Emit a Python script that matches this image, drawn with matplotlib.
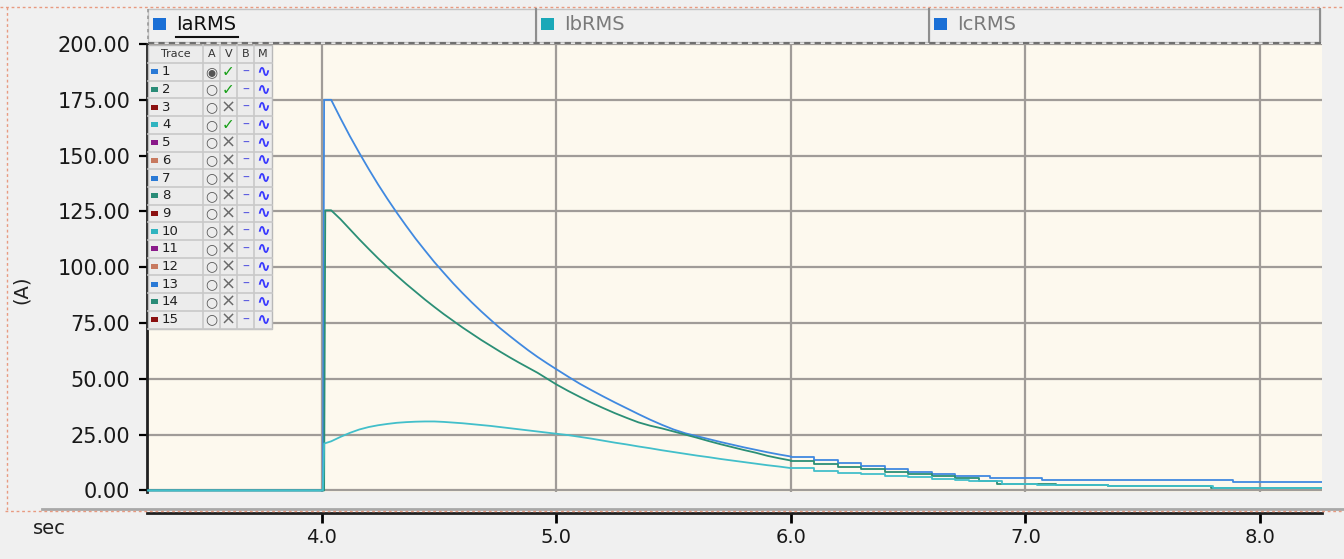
import matplotlib
matplotlib.use("Agg")
import matplotlib.pyplot as plt
from matplotlib.patches import Rectangle
from matplotlib.lines import Line2D

W, H = 1344, 559

# shared sample times after the fault (s)
t_main = [4.04, 4.08, 4.12, 4.16, 4.20, 4.24, 4.28, 4.32, 4.36, 4.40,
          4.44, 4.48, 4.52, 4.56, 4.60, 4.64, 4.68, 4.72, 4.76, 4.80,
          4.84, 4.88, 4.92, 4.96, 5.00, 5.05, 5.10, 5.15, 5.20, 5.25,
          5.30, 5.35, 5.40, 5.45, 5.50, 5.55, 5.60, 5.65, 5.70, 5.75,
          5.80, 5.85, 5.90, 5.95, 6.00, 6.10, 6.20, 6.30, 6.40, 6.50,
          6.60, 6.70]
SPLIT = 44  # index of 6.00 s, after which the record is drawn as coarse steps

# trace 1 (blue)
t1_head = [3.26, 4.005, 4.01]
v1_head = [0.0, 0.0, 175.0]
v1_main = [175.0, 166.7, 158.7, 151.2, 144.0, 137.1, 130.6, 124.4, 118.5, 112.8,
           107.5, 102.3, 97.5, 92.8, 88.4, 84.2, 80.2, 76.4, 72.7, 69.3,
           66.0, 62.8, 59.8, 57.0, 54.3, 51.0, 47.8, 44.9, 42.1, 39.4,
           36.8, 34.2, 31.7, 29.4, 27.3, 25.6, 24.3, 23.0, 21.7, 20.5,
           19.3, 18.2, 17.1, 16.1, 15.2, 13.6, 12.2, 10.8, 9.4, 8.3,
           7.2, 6.3]
t1_tail = [6.85, 7.07, 7.885, 8.27]
v1_tail = [5.4, 4.6, 3.9, 3.9]

# trace 2 (green)
t2_head = [3.26, 4.01, 4.015]
v2_head = [0.0, 0.0, 125.5]
v2_main = [125.5, 121.5, 117.0, 112.5, 108.2, 104.0, 100.0, 96.2, 92.5, 89.0,
           85.5, 82.2, 79.0, 76.0, 73.0, 70.2, 67.4, 64.8, 62.2, 59.7,
           57.3, 55.0, 52.7, 50.1, 47.5, 44.6, 41.9, 39.3, 36.9, 34.6,
           32.5, 30.5, 29.0, 27.8, 26.4, 25.0, 23.6, 22.1, 20.7, 19.4,
           18.1, 16.9, 15.5, 14.4, 13.4, 12.0, 10.7, 9.5, 8.4, 7.3,
           6.3, 5.4]
t2_tail = [6.80, 6.88, 7.13, 7.35, 7.79, 8.27]
v2_tail = [4.4, 3.1, 2.4, 1.9, 1.3, 1.3]

# trace 4 (cyan)
t4_head = [3.26, 4.005, 4.01]
v4_head = [0.0, 0.0, 21.0]
v4_main = [22.0, 24.0, 25.8, 27.3, 28.4, 29.2, 29.8, 30.3, 30.6, 30.8,
           30.9, 30.9, 30.7, 30.4, 30.1, 29.7, 29.3, 28.9, 28.4, 27.9,
           27.4, 26.9, 26.4, 25.9, 25.4, 24.8, 24.0, 23.2, 22.3, 21.4,
           20.6, 19.7, 18.9, 18.0, 17.2, 16.4, 15.6, 14.9, 14.1, 13.4,
           12.7, 12.0, 11.3, 10.7, 10.0, 8.9, 8.0, 7.2, 6.5, 5.9,
           5.3, 4.8]
t4_tail = [6.76, 6.90, 7.05, 7.35, 7.80, 8.27]
v4_tail = [4.4, 3.1, 2.6, 1.8, 1.3, 1.3]

tabs = ["IaRMS", "IbRMS", "IcRMS"]
x_ticks = [4.0, 5.0, 6.0, 7.0, 8.0]
y_ticks = [0, 25, 50, 75, 100, 125, 150, 175, 200]
trace_ids = list(range(1, 16))
trace_on = [1, 2, 4]
trace_cols = ["#2a7ad6", "#2a8c78", "#8b1010", "#30b4c0", "#8a1a8a", "#c87a60"]


def fx(x):
    return x / W


def fy(y):
    return 1 - y / H


fig = plt.figure(figsize=(W / 100, H / 100), dpi=100, facecolor="#f0f0f0")


def rect(x0, y0, x1, y1, **kw):
    fig.add_artist(Rectangle((fx(x0), fy(y1)), (x1 - x0) / W, (y1 - y0) / H,
                             transform=fig.transFigure, **kw))


def hline(x0, x1, y, **kw):
    fig.add_artist(Line2D([fx(x0), fx(x1)], [fy(y), fy(y)], transform=fig.transFigure, **kw))


def vline(x, y0, y1, **kw):
    fig.add_artist(Line2D([fx(x), fx(x)], [fy(y0), fy(y1)], transform=fig.transFigure, **kw))


# main plot area
ax = fig.add_axes([fx(147), fy(492), (1322 - 147) / W, (492 - 44) / H])
ax.set_facecolor("#fdf9ee")
ax.set_xlim(3.255, 8.264)
ax.set_ylim(-0.7, 200)
ax.set_xticks(x_ticks)
ax.set_yticks(y_ticks)
ax.set_yticklabels([f"{v:.2f}" for v in y_ticks])
ax.grid(color="#a09c98", lw=1.6, zorder=1)
ax.set_axisbelow(True)
ax.tick_params(axis="x", bottom=False, labelbottom=False)
ax.tick_params(axis="y", direction="out", length=6, width=1.6, labelsize=15, pad=6,
               labelcolor="#181818")
for s in ["top", "right", "bottom"]:
    ax.spines[s].set_visible(False)
ax.spines["left"].set_linewidth(2)
ax.spines["left"].set_color("#202020")

series = [
    (t1_head, v1_head, v1_main, t1_tail, v1_tail, "#4089e0", 3),
    (t2_head, v2_head, v2_main, t2_tail, v2_tail, "#2b8f76", 3),
    (t4_head, v4_head, v4_main, t4_tail, v4_tail, "#42bfca", 4),
]
for th, vh, vm, tt, vt, col, z in series:
    ax.plot(th + t_main[:SPLIT + 1], vh + vm[:SPLIT + 1], color=col, lw=1.3, zorder=z)
    ax.plot(t_main[SPLIT:] + tt, vm[SPLIT:] + vt, drawstyle="steps-post",
            color=col, lw=1.3, zorder=z)

# x axis strip
axx = fig.add_axes([fx(147), fy(513), (1322 - 147) / W, 0.0001])
axx.set_xlim(3.255, 8.264)
axx.set_xticks(x_ticks)
axx.set_xticklabels([f"{v:.1f}" for v in x_ticks])
axx.set_yticks([])
axx.patch.set_alpha(0)
for s in ["top", "left", "right"]:
    axx.spines[s].set_visible(False)
axx.spines["bottom"].set_linewidth(2)
axx.spines["bottom"].set_color("#202020")
axx.tick_params(axis="x", direction="out", length=7, width=2, labelsize=14, pad=4,
                labelcolor="#181818")

fig.text(fx(33), fy(529), "sec", fontsize=14, va="center", ha="left", color="#202020")
fig.text(fx(21), fy(290), "(A)", fontsize=14, rotation=90, va="center", ha="center", color="#202020")

# frame lines
hline(42, W, 509, color="#a8a8a8", lw=2)
hline(0, W, 7, color="#e89a80", lw=1, ls=(0, (2, 2)))
hline(5, W, 511, color="#e89a80", lw=1, ls=(0, (2, 2)))
vline(7, 7, 511, color="#e89a80", lw=1, ls=(0, (2, 2)))

# header tabs
tab_x = [148, 536, 929, 1320]
tab_sq = ["#1a6fd6", "#1aa8b8", "#1a6fd6"]
for i, name in enumerate(tabs):
    x0, x1 = tab_x[i], tab_x[i + 1]
    rect(x0, 9, x1, 42, fc="#f0f0f0", ec="#c4c4c4", lw=1)
    vline(x1, 9, 42, color="#8e8e8e", lw=1.5)
    rect(x0 + 5, 18, x0 + 18, 30, fc=tab_sq[i], ec="none")
    col = "#101010" if i == 0 else "#7a7a7a"
    fig.text(fx(x0 + 28), fy(25), name, fontsize=14, va="center", ha="left", color=col)
hline(176, 238, 37, color="#101010", lw=1.5)
vline(148, 9, 42, color="#9a9a9a", lw=1.2, ls=(0, (2, 2)))
hline(148, 1322, 43, color="#707070", lw=1.5, ls=(0, (3, 2)))

# trace table
col_x = [148, 203, 220, 237, 254, 272]
row_top = 63
row_h = 17.7
rect(148, 45, 272, row_top + 15 * row_h, fc="#ececec", ec="#b8b8b8", lw=1, zorder=5)
for cx in col_x[1:-1]:
    vline(cx, 45, row_top + 15 * row_h, color="#c8c8c8", lw=1.2, zorder=6)
for r in range(16):
    hline(148, 272, row_top + r * row_h, color="#c8c8c8", lw=1.2, zorder=6)

hdr = ["Trace", "A", "V", "B", "M"]
for j, h in enumerate(hdr):
    fig.text(fx((col_x[j] + col_x[j + 1]) / 2), fy(54), h, fontsize=8,
             ha="center", va="center", color="#333333", zorder=7)

for i, tid in enumerate(trace_ids):
    yc = row_top + row_h * i + row_h / 2
    rect(151, yc - 2.5, 158, yc + 2.5, fc=trace_cols[i % 6], ec="none", zorder=7)
    fig.text(fx(162), fy(yc), str(tid), fontsize=9.5, ha="left", va="center",
             color="#202020", zorder=7)
    fig.text(fx(211.5), fy(yc), "\u25c9" if i == 0 else "\u25cb", fontsize=10,
             ha="center", va="center", color="#555555", zorder=7)
    if tid in trace_on:
        fig.text(fx(228.5), fy(yc), "\u2713", fontsize=11, ha="center", va="center",
                 color="#18a018", fontweight="bold", zorder=7)
    else:
        fig.text(fx(228.5), fy(yc), "\u00d7", fontsize=13, ha="center", va="center",
                 color="#6a6a6a", zorder=7)
    fig.text(fx(245.5), fy(yc), "\u2013", fontsize=10, ha="center", va="center",
             color="#5a5ae0", zorder=7)
    fig.text(fx(263), fy(yc), "\u223f", fontsize=12, ha="center", va="center",
             color="#3a3aff", fontweight="bold", zorder=7)

fig.savefig("out.png", dpi=100, facecolor=fig.get_facecolor())
